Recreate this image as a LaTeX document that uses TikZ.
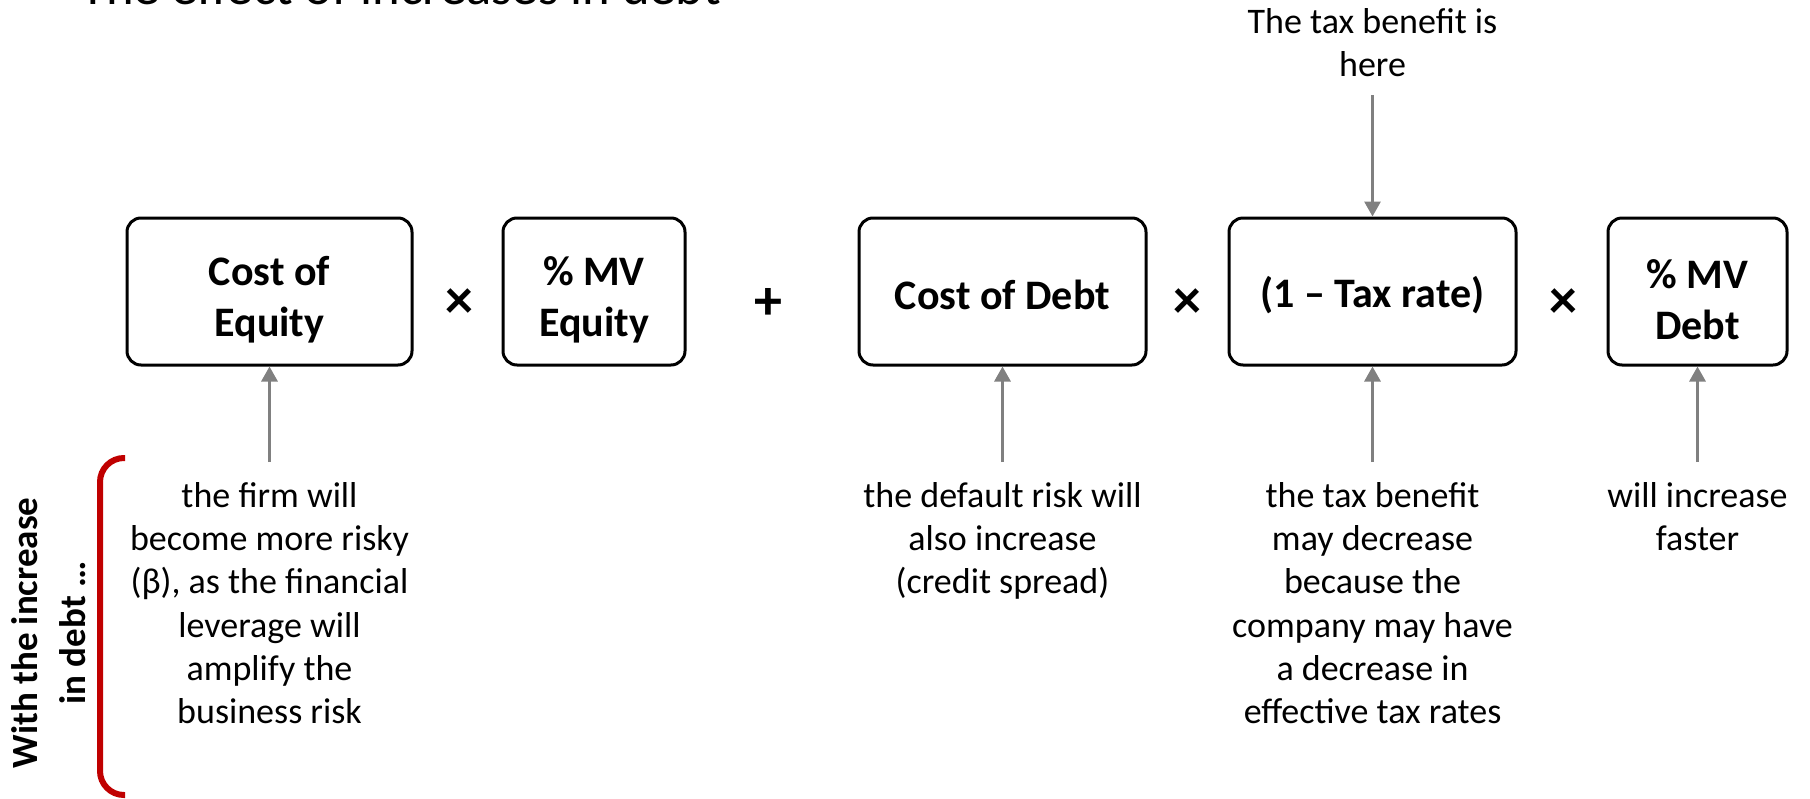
\documentclass[tikz,border=0pt]{standalone}
\usepackage{fontspec}
\setmainfont{Carlito}
\usetikzlibrary{arrows.meta}
\definecolor{arrgray}{HTML}{808080}
\definecolor{bracketred}{HTML}{C00000}
\begin{document}
\begin{tikzpicture}[x=0.5pt,y=-0.5pt,
  box/.style={draw, line width=1.5pt, rounded corners=7pt, minimum height=73.5pt, inner sep=0pt},
  boxtext/.style={align=center, font=\fontsize{21}{25.5}\selectfont\bfseries, inner sep=0pt},
  op/.style={font=\fontsize{28}{30}\selectfont\bfseries, inner sep=0pt},
  note/.style={align=center, font=\fontsize{18}{21.6}\selectfont, inner sep=0pt, anchor=north},
  arr/.style={draw=arrgray, line width=1.5pt, -{Triangle[width=8pt,length=7.5pt]}}
]
\useasboundingbox (0,0) rectangle (1810,798);
\node[anchor=base west, font=\fontsize{26.3}{31}\selectfont, inner sep=0pt] (title) at (80,4) {The effect of increases in debt};
% boxes
\node[box, minimum width=142.5pt] (coe) at (269.5,291.5) {};
\node[boxtext] (coet) at (269.5,300) {Cost of\\Equity};
\node[op] (x1) at (459,304) {×};
\node[box, minimum width=91pt] (mve) at (594,291.5) {};
\node[boxtext] (mvet) at (594,300) {\% MV\\Equity};
\node[op] (p1) at (768,304) {+};
\node[box, minimum width=143.5pt] (cod) at (1002.5,291.5) {};
\node[boxtext] (codt) at (1002.5,295) {Cost of Debt};
\node[op] (x2) at (1187,304) {×};
\node[box, minimum width=143.5pt] (tax) at (1372.5,291.5) {};
\node[boxtext] (taxt) at (1372.5,295) {(1 – Tax rate)};
\node[op] (x3) at (1563,304) {×};
\node[box, minimum width=89.5pt] (mvd) at (1697.5,291.5) {};
\node[boxtext] (mvdt) at (1697.5,300) {\% MV\\Debt};
% notes
\node[note] (topnote) at (1372.5,8) {The tax benefit is\\here};
\node[note] (n1) at (269.5,482) {the firm will\\become more risky\\(β), as the financial\\leverage will\\amplify the\\business risk};
\node[note] (n3) at (1002.5,482) {the default risk will\\also increase\\(credit spread)};
\node[note] (n4) at (1372.5,482) {the tax benefit\\may decrease\\because the\\company may have\\a decrease in\\effective tax rates};
\node[note] (n5) at (1697.5,482) {will increase\\faster};
% arrows
\draw[arr] ([yshift=10pt]n1.north) -- (coe.south);
\draw[arr] ([yshift=10pt]n3.north) -- (cod.south);
\draw[arr] ([yshift=10pt]n4.north) -- (tax.south);
\draw[arr] ([yshift=10pt]n5.north) -- (mvd.south);
\draw[arr] ([yshift=-9pt]topnote.south) -- (tax.north);
% side label and bracket
\node[rotate=90, align=center, font=\fontsize{18.5}{24}\selectfont\bfseries, inner sep=0pt] (side) at (49,633) {With the increase\\in debt …};
\draw[bracketred, line width=3pt, rounded corners=12pt] (125,458) -- (100,458) -- (100,795) -- (125,795);
\end{tikzpicture}
\end{document}
